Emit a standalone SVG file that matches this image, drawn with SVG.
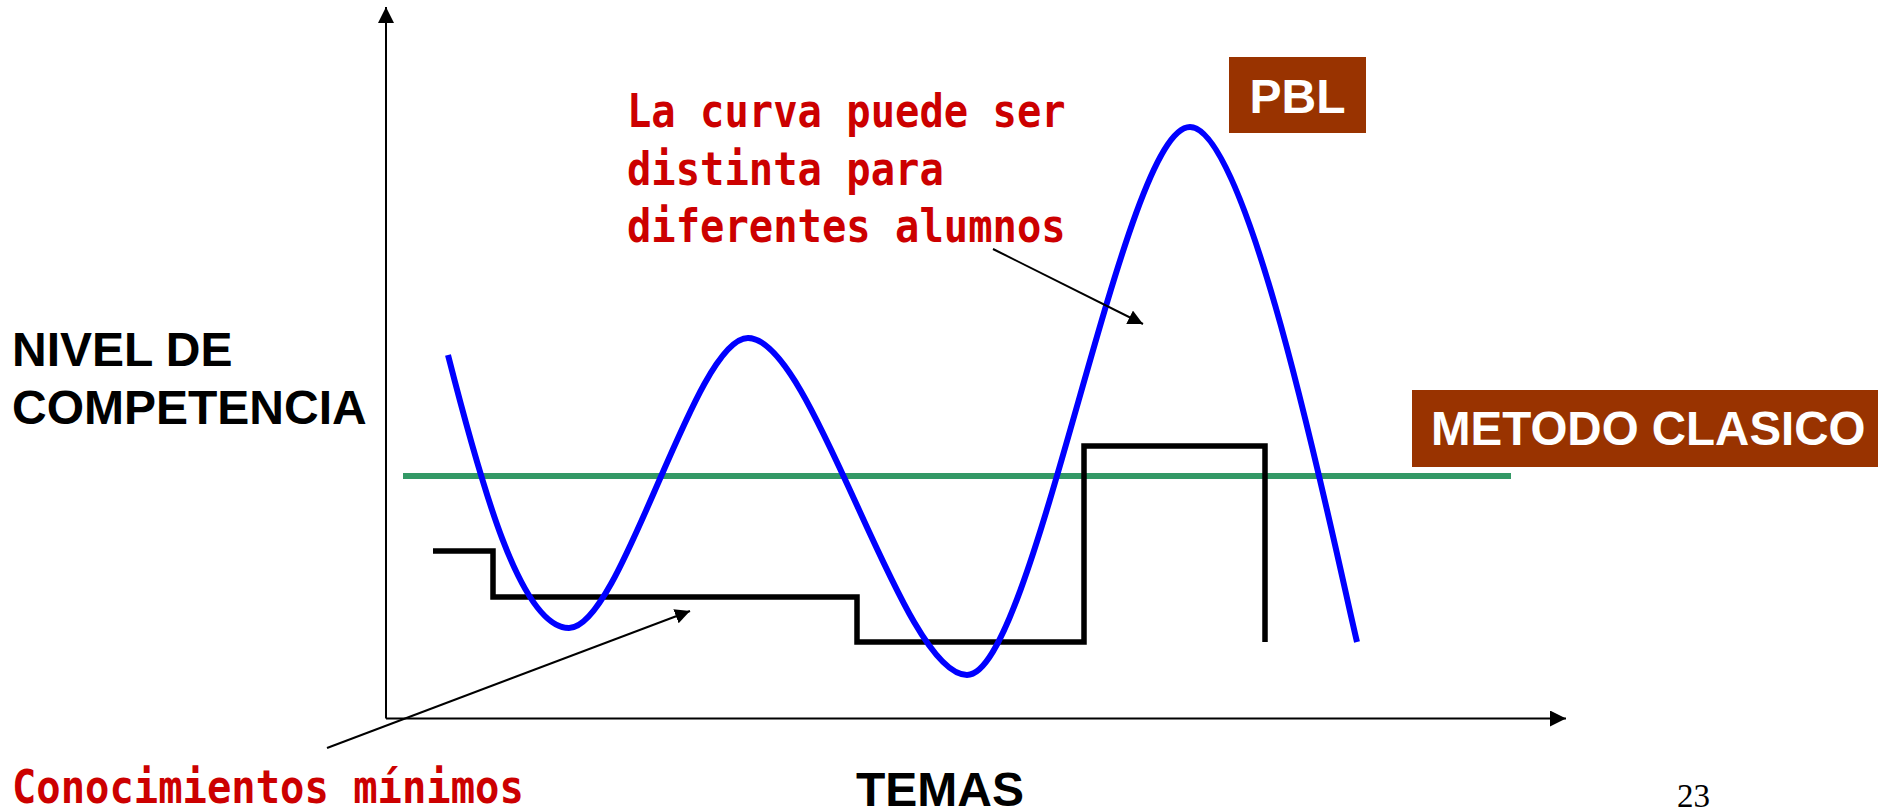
<svg xmlns="http://www.w3.org/2000/svg" width="1887" height="811" viewBox="0 0 1887 811">
  <style>
    .axis { stroke: #000; stroke-width: 2; fill: none; }
    .ann { stroke: #000; stroke-width: 2; fill: none; }
    .pbl { stroke: #0000ff; stroke-width: 6; fill: none; stroke-linecap: butt; }
    .green { stroke: #339966; stroke-width: 6; fill: none; }
    .step { stroke: #000; stroke-width: 5.5; fill: none; stroke-linejoin: miter; stroke-linecap: butt; }
    .title { font-family: "Liberation Sans", Arial, sans-serif; font-weight: bold; font-size: 48px; fill: #000; }
    .boxtxt { font-family: "Liberation Sans", Arial, sans-serif; font-weight: bold; fill: #fff; }
    .red { font-family: "DejaVu Sans Mono", "Liberation Mono", monospace; font-weight: bold; font-size: 40.5px; fill: #cc0000; }
    .box { fill: #993300; }
    .page { font-family: "Liberation Serif", "Times New Roman", serif; font-size: 33px; fill: #000; }
  </style>
  <defs>
    <marker id="arrow" markerUnits="userSpaceOnUse" markerWidth="16" markerHeight="16" refX="16" refY="8" orient="auto" viewBox="0 0 16 16">
      <path d="M0,0 L16,8 L0,16 z" fill="#000"/>
    </marker>
    <marker id="arrowSm" markerUnits="userSpaceOnUse" markerWidth="15" markerHeight="15" refX="15" refY="7.5" orient="auto" viewBox="0 0 15 15">
      <path d="M0,0 L15,7.5 L0,15 z" fill="#000"/>
    </marker>
  </defs>

  <g id="axes">
    <line class="axis" x1="386" y1="718.5" x2="386" y2="7" marker-end="url(#arrow)"/>
    <line class="axis" x1="386" y1="718.5" x2="1566" y2="718.5" marker-end="url(#arrow)"/>
  </g>

  <g id="metodo-clasico-line">
    <line class="green" x1="403" y1="476" x2="1511" y2="476"/>
  </g>

  <g id="step-curve">
    <path class="step" d="M433,551 H493 V597 H857 V642 H1084 V446 H1265 V642"/>
  </g>

  <g id="pbl-curve">
    <path class="pbl" d="M448,355 C480,480 520,628 569,628 C622,628 694,338 748,338 C814,338 901,675 967,675 C1034,675 1123,127 1190,127 C1250,127 1337,559 1357,642"/>
  </g>

  <g id="connectors">
    <line class="ann" x1="993" y1="249" x2="1143" y2="324" marker-end="url(#arrowSm)"/>
    <line class="ann" x1="327" y1="748" x2="690" y2="611" marker-end="url(#arrowSm)"/>
  </g>

  <g id="label-pbl">
    <rect class="box" x="1229" y="57" width="137" height="76"/>
    <text class="boxtxt" x="1297.5" y="113" font-size="48" text-anchor="middle">PBL</text>
  </g>

  <g id="label-metodo-clasico">
    <rect class="box" x="1412" y="390" width="466" height="77"/>
    <text class="boxtxt" x="1431" y="445" font-size="47.5">METODO CLASICO</text>
  </g>

  <g id="label-nivel">
    <text class="title" x="12" y="366">NIVEL DE</text>
    <text class="title" x="12" y="424">COMPETENCIA</text>
  </g>

  <g id="label-temas">
    <text class="title" x="856" y="806">TEMAS</text>
  </g>

  <g id="note-curva">
    <text class="red" transform="translate(627,127) scale(1,1.12)">La curva puede ser</text>
    <text class="red" transform="translate(627,184.5) scale(1,1.12)">distinta para</text>
    <text class="red" transform="translate(627,242) scale(1,1.12)">diferentes alumnos</text>
  </g>

  <g id="note-conocimientos">
    <text class="red" transform="translate(12,803) scale(1,1.12)">Conocimientos mínimos</text>
  </g>

  <g id="page-number">
    <text class="page" x="1677" y="807">23</text>
  </g>
</svg>
